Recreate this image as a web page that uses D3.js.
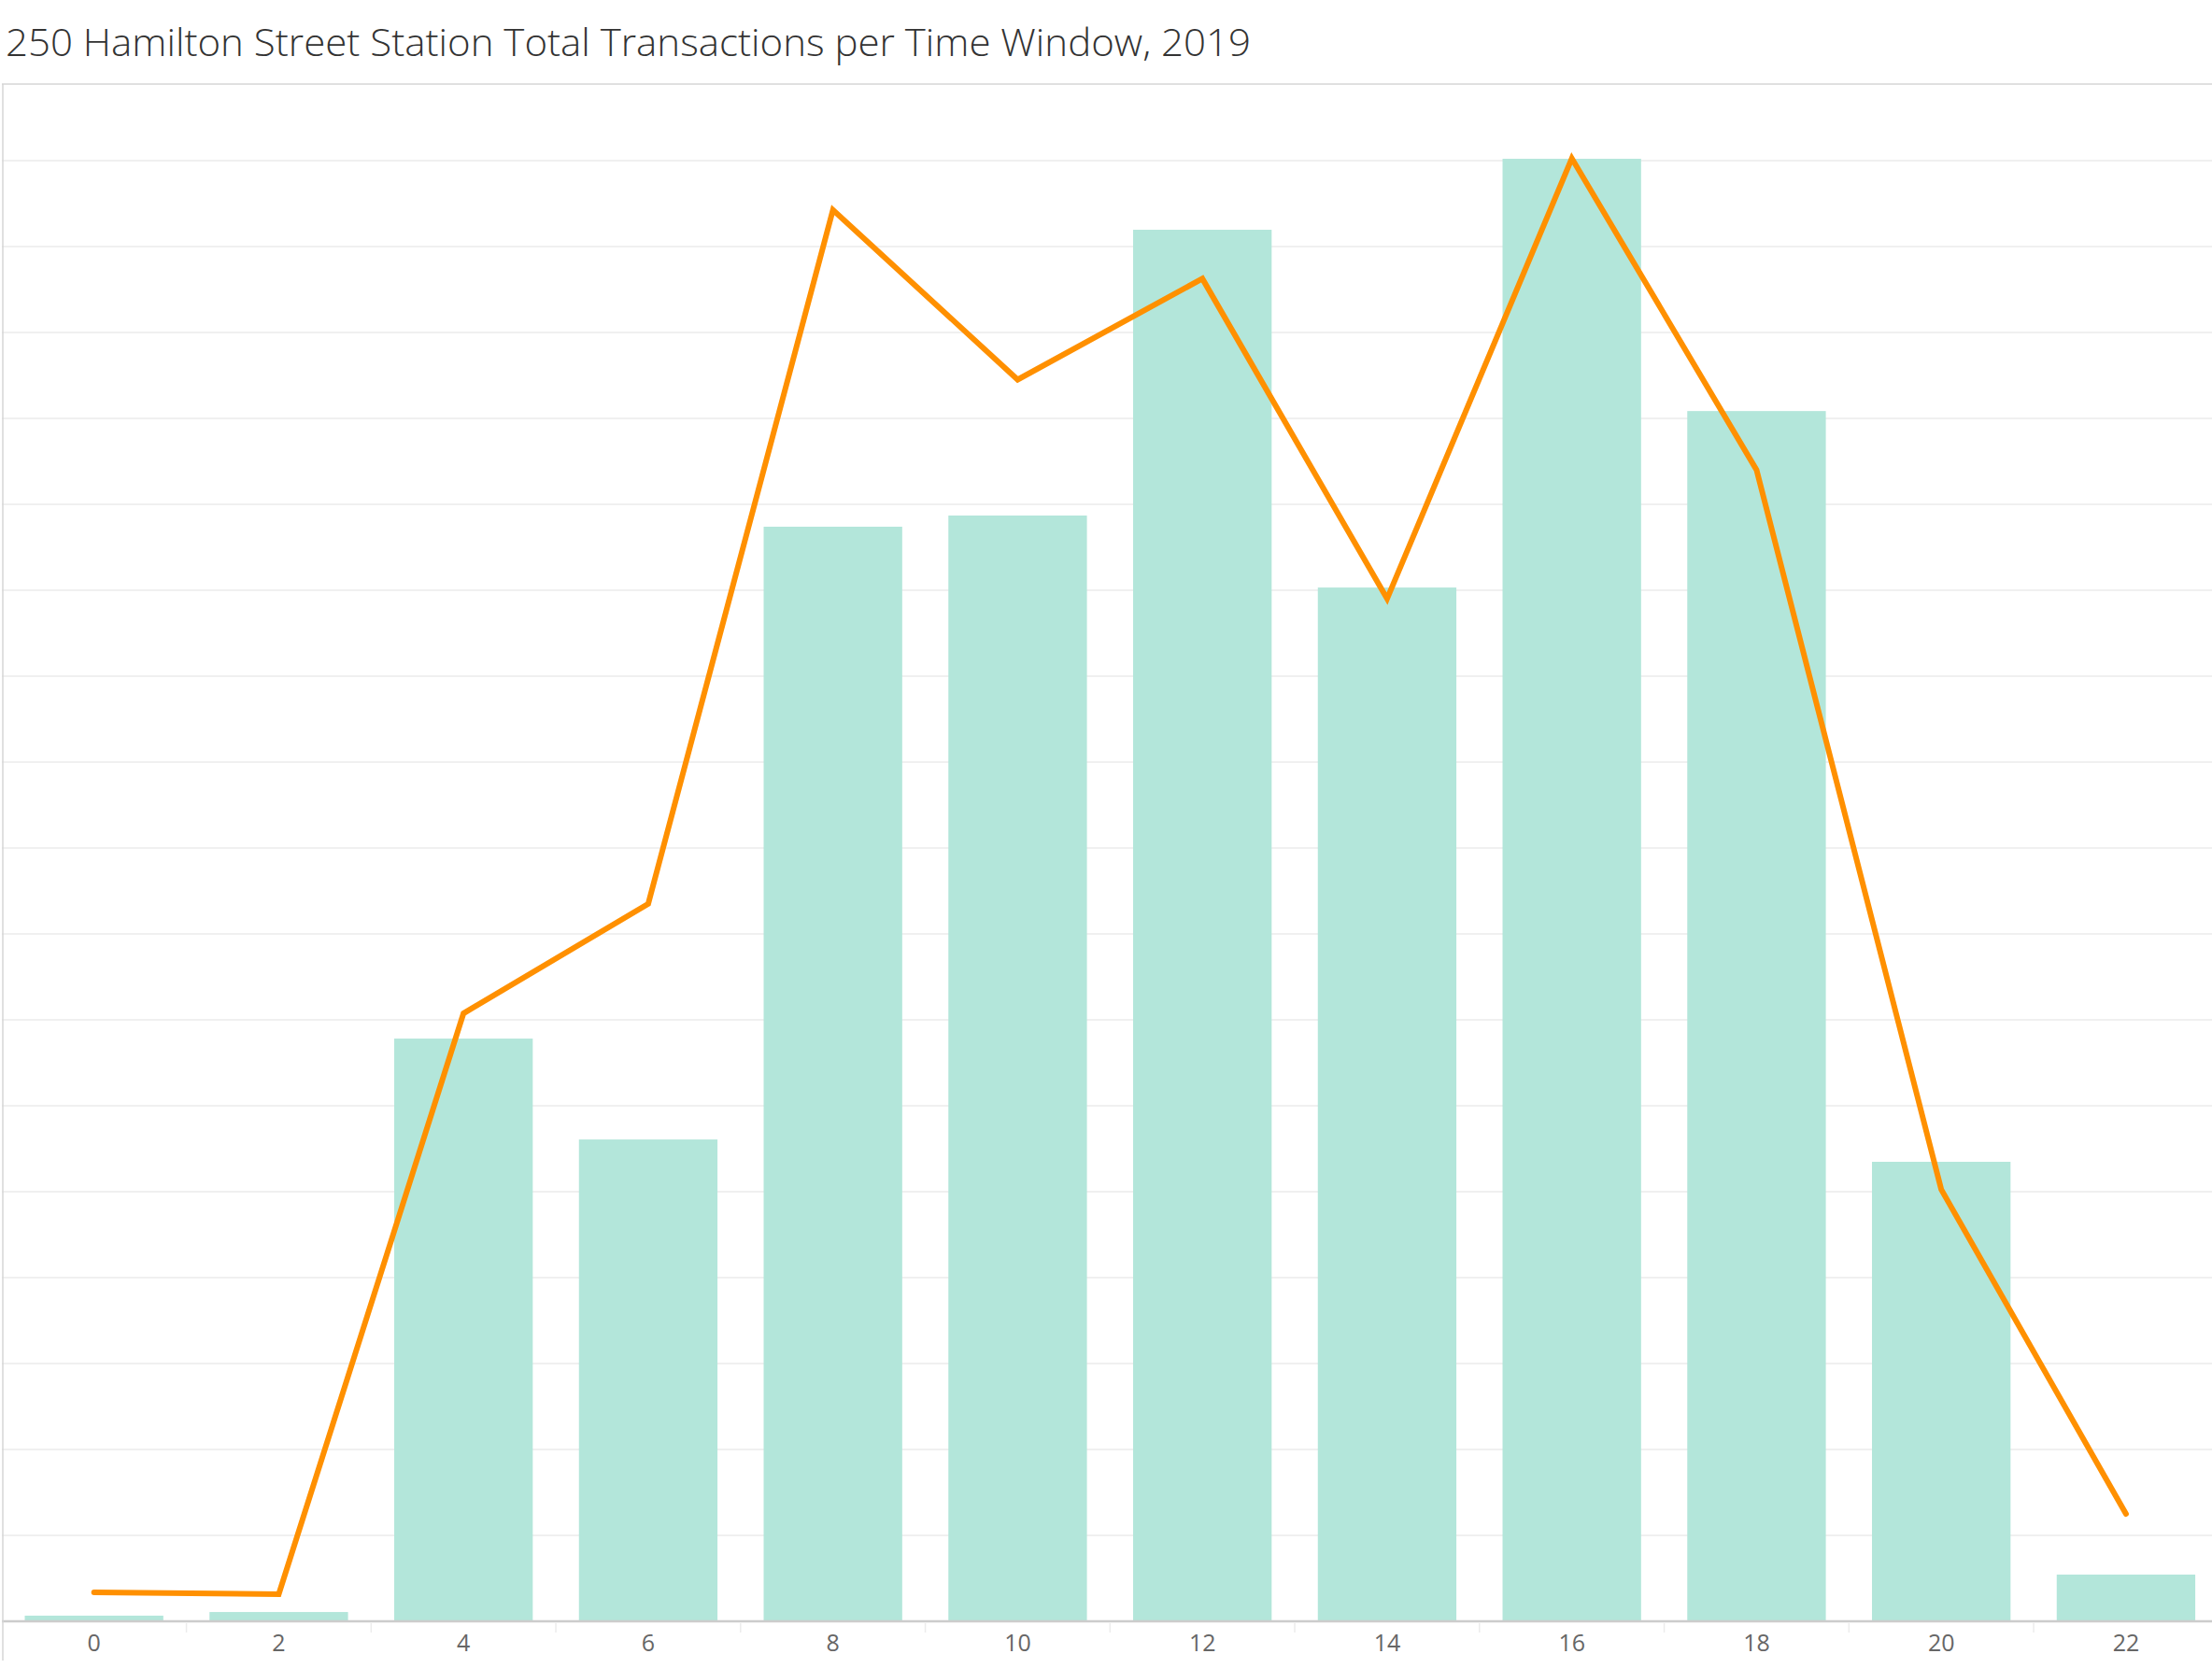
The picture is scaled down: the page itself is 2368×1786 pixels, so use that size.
<!DOCTYPE html>
<html>
<head>
<meta charset="utf-8">
<script src="https://cdn.jsdelivr.net/npm/d3@7"></script>
<style>
  html, body { margin: 0; padding: 0; background: #ffffff; }
  svg { display: block; }
</style>
</head>
<body>
<div id="chart"></div>
<script>
// time window (hour of day) categories
var hours = ["0", "2", "4", "6", "8", "10", "12", "14", "16", "18", "20", "22"];
// total transactions per window (bars)
var transactions = [33, 54, 3391, 2804, 6370, 6435, 8098, 6016, 8511, 7043, 2674, 272];
// second measure on its own axis (line)
var lineValues = [13.5, 12.6, 283, 334, 657, 578, 625, 476, 681, 536, 201, 50];
// gridline values of the bar axis
var gridTicks = d3.range(500, 9000, 500);

var title = "250 Hamilton Street Station Total Transactions per Time Window, 2019";

var width = 2368, height = 1786;
var plotTop = 90, plotBottom = 1736, plotLeft = 1.8;

var svg = d3.select("#chart").append("svg")
  .attr("width", width)
  .attr("height", height);

// title
svg.append("text")
  .attr("x", 6)
  .attr("y", 60)
  .attr("textLength", 1333)
  .attr("lengthAdjust", "spacingAndGlyphs")
  .style("font-family", "'Open Sans', 'Noto Sans', sans-serif")
  .style("font-size", "40px")
  .style("font-weight", 300)
  .style("fill", "#333333")
  .text(title);

// scales
var x = d3.scaleBand()
  .domain(hours)
  .range([plotLeft, plotLeft + 12 * 197.75])
  .paddingInner(0.25)
  .paddingOuter(0.125);

var y = d3.scaleLinear()
  .domain([0, 8946])
  .range([plotBottom, plotTop]);

var yLine = d3.scaleLinear()
  .domain([0, 715.6])
  .range([plotBottom, plotTop]);

// top border of the pane
svg.append("line")
  .attr("x1", 2).attr("x2", width)
  .attr("y1", plotTop).attr("y2", plotTop)
  .style("stroke", "#d6d6d6")
  .style("stroke-width", 1.5);

// horizontal gridlines
svg.append("g")
  .selectAll("line")
  .data(gridTicks)
  .enter()
  .append("line")
  .attr("x1", 2).attr("x2", width)
  .attr("y1", function (d) { return y(d); })
  .attr("y2", function (d) { return y(d); })
  .style("stroke", "#f0f0f0")
  .style("stroke-width", 2);

// bars
svg.append("g")
  .selectAll("rect")
  .data(transactions)
  .enter()
  .append("rect")
  .attr("x", function (d, i) { return x(hours[i]); })
  .attr("y", function (d) { return y(d); })
  .attr("width", x.bandwidth())
  .attr("height", function (d) { return y(0) - y(d); })
  .style("fill", "#b3e6da");

// line
var line = d3.line()
  .x(function (d, i) { return x(hours[i]) + x.bandwidth() / 2; })
  .y(function (d) { return yLine(d); });

svg.append("path")
  .datum(lineValues)
  .attr("d", line)
  .style("fill", "none")
  .style("stroke", "#ff9000")
  .style("stroke-width", 6)
  .style("stroke-linejoin", "miter")
  .style("stroke-linecap", "round");

// x axis baseline
svg.append("line")
  .attr("x1", 2).attr("x2", width)
  .attr("y1", plotBottom).attr("y2", plotBottom)
  .style("stroke", "#cccccc")
  .style("stroke-width", 2.5);

// left border
svg.append("line")
  .attr("x1", 3).attr("x2", 3)
  .attr("y1", plotTop).attr("y2", 1778)
  .style("stroke", "#d6d6d6")
  .style("stroke-width", 1.5);

// separators between categories under the axis
var step = x.step();
svg.append("g")
  .selectAll("line")
  .data(d3.range(1, 12))
  .enter()
  .append("line")
  .attr("x1", function (k) { return plotLeft + k * step; })
  .attr("x2", function (k) { return plotLeft + k * step; })
  .attr("y1", plotBottom + 2)
  .attr("y2", plotBottom + 12)
  .style("stroke", "#ececec")
  .style("stroke-width", 1.5);

// tick labels
svg.append("g")
  .selectAll("text")
  .data(hours)
  .enter()
  .append("text")
  .attr("x", function (d) { return x(d) + x.bandwidth() / 2; })
  .attr("y", 1768)
  .attr("text-anchor", "middle")
  .style("font-family", "'Open Sans', 'Noto Sans', sans-serif")
  .style("font-size", "25px")
  .style("fill", "#666666")
  .text(function (d) { return d; });
</script>
</body>
</html>
